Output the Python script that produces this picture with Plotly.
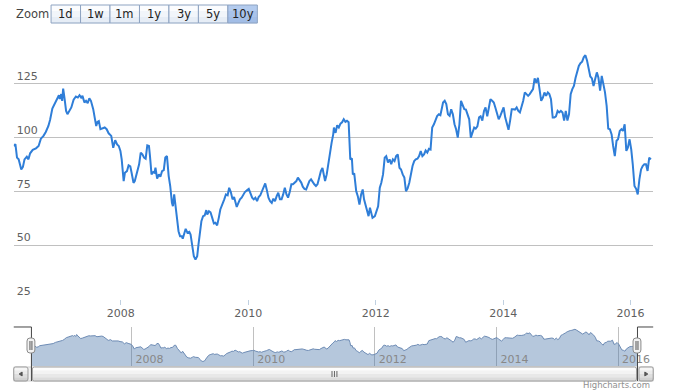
import plotly.graph_objects as go
import pandas as pd

# reference frame is 676 x 390 (positions below are fractions of it)
W, H = 676, 390

# (decimal year, value)
seg_2006_2007 = [
    (2006.320, 96.1), (2006.346, 97.0), (2006.371, 90.7), (2006.397, 89.9), (2006.438, 85.2),
    (2006.464, 86.4), (2006.489, 89.9), (2006.525, 91.1), (2006.551, 89.9), (2006.577, 92.7),
    (2006.618, 94.3), (2006.669, 95.0), (2006.710, 96.1), (2006.746, 99.5), (2006.787, 100.8),
    (2006.823, 102.6), (2006.864, 105.4), (2006.890, 108.2), (2006.926, 113.5), (2006.967, 116.0),
    (2007.003, 118.2), (2007.029, 119.7), (2007.044, 117.9), (2007.065, 120.2), (2007.080, 117.1),
    (2007.096, 122.8), (2007.116, 118.6), (2007.142, 112.4), (2007.163, 110.9), (2007.193, 112.4),
    (2007.224, 114.0), (2007.260, 117.6), (2007.296, 119.1), (2007.327, 118.6), (2007.353, 119.7),
    (2007.378, 118.6), (2007.399, 119.4), (2007.430, 116.3), (2007.455, 117.1), (2007.481, 116.0),
    (2007.507, 118.2), (2007.532, 117.1), (2007.568, 113.2), (2007.594, 108.8), (2007.615, 105.4),
    (2007.635, 107.3), (2007.656, 107.7), (2007.681, 103.9), (2007.712, 104.2), (2007.748, 104.7),
    (2007.779, 103.9), (2007.810, 102.0), (2007.851, 100.8), (2007.882, 95.3), (2007.913, 98.8),
    (2007.943, 96.8), (2007.969, 96.1), (2007.995, 93.8),
]
seg_2008_2009 = [
    (2008.015, 89.9), (2008.046, 79.8), (2008.066, 83.7), (2008.097, 84.4), (2008.123, 87.1),
    (2008.150, 86.6), (2008.170, 83.7), (2008.200, 79.0), (2008.220, 79.8), (2008.251, 82.9),
    (2008.288, 87.6), (2008.313, 93.0), (2008.339, 92.2), (2008.365, 90.7), (2008.390, 90.2),
    (2008.416, 96.4), (2008.442, 96.1), (2008.458, 91.4), (2008.482, 82.9), (2008.509, 84.0),
    (2008.529, 83.7), (2008.544, 86.0), (2008.570, 80.9), (2008.597, 82.9), (2008.621, 81.8),
    (2008.647, 84.4), (2008.674, 84.9), (2008.698, 90.7), (2008.724, 91.4), (2008.751, 82.1),
    (2008.775, 77.5), (2008.802, 69.7), (2008.817, 68.1), (2008.837, 73.6), (2008.859, 68.1),
    (2008.879, 60.4), (2008.905, 56.5), (2008.929, 54.2), (2008.956, 54.2), (2008.971, 53.0),
    (2008.997, 55.8), (2009.017, 57.6), (2009.044, 55.8), (2009.074, 56.2), (2009.094, 55.0),
    (2009.125, 49.5), (2009.145, 44.9), (2009.171, 43.3), (2009.198, 44.9), (2009.218, 50.3),
    (2009.238, 56.5), (2009.264, 61.2), (2009.290, 63.5), (2009.315, 63.8), (2009.341, 66.3),
    (2009.356, 64.2), (2009.383, 65.8), (2009.407, 65.3), (2009.434, 62.7), (2009.460, 60.1),
    (2009.484, 60.4), (2009.511, 59.2), (2009.537, 62.7), (2009.561, 66.6),
]
seg_2009_2011 = [
    (2009.623, 71.3), (2009.649, 73.6), (2009.676, 73.2), (2009.700, 76.7), (2009.726, 74.7),
    (2009.753, 71.3), (2009.777, 72.4), (2009.793, 71.0), (2009.819, 67.8), (2009.845, 69.7),
    (2009.870, 71.3), (2009.896, 72.1), (2009.922, 73.6), (2009.947, 74.7), (2009.984, 75.6),
    (2010.008, 76.2), (2010.035, 74.1), (2010.061, 72.1), (2010.086, 71.3), (2010.112, 72.1),
    (2010.138, 70.5), (2010.163, 72.4), (2010.189, 73.2), (2010.215, 75.1), (2010.240, 77.2),
    (2010.266, 78.7), (2010.292, 75.6), (2010.317, 72.1), (2010.343, 70.5), (2010.369, 69.7),
    (2010.394, 71.6), (2010.420, 70.5), (2010.446, 72.8), (2010.471, 74.4), (2010.497, 71.3),
    (2010.523, 71.3), (2010.548, 73.6), (2010.574, 76.7), (2010.600, 73.6), (2010.625, 72.1),
    (2010.651, 74.7), (2010.677, 78.3), (2010.702, 78.3), (2010.728, 79.1), (2010.755, 79.8),
    (2010.779, 81.4), (2010.805, 80.3), (2010.832, 79.1), (2010.856, 77.2), (2010.882, 76.2),
    (2010.909, 75.9), (2010.933, 77.7), (2010.960, 79.8), (2010.986, 80.6), (2011.010, 79.4),
    (2011.037, 78.3), (2011.063, 77.5), (2011.087, 78.3), (2011.114, 81.4), (2011.140, 84.4),
    (2011.165, 85.9), (2011.191, 82.9), (2011.206, 79.8), (2011.232, 82.9), (2011.257, 88.4),
    (2011.283, 93.0), (2011.309, 97.7), (2011.334, 101.5), (2011.345, 104.7),
]
seg_2011_2013 = [
    (2011.371, 102.2), (2011.396, 105.7), (2011.422, 104.7), (2011.448, 106.5), (2011.473, 107.1),
    (2011.499, 108.5), (2011.525, 107.3), (2011.550, 107.8), (2011.576, 107.1), (2011.592, 99.2),
    (2011.602, 89.9), (2011.627, 90.4), (2011.642, 82.9), (2011.664, 83.4), (2011.695, 75.1),
    (2011.720, 72.8), (2011.746, 68.9), (2011.772, 73.6), (2011.797, 75.9), (2011.818, 71.3),
    (2011.849, 68.1), (2011.874, 65.8), (2011.889, 63.5), (2011.911, 67.4), (2011.935, 65.1),
    (2011.951, 62.7), (2011.988, 63.5), (2012.012, 65.8), (2012.039, 68.1), (2012.065, 76.7),
    (2012.089, 79.0), (2012.116, 82.9), (2012.142, 90.7), (2012.166, 91.4), (2012.193, 88.4),
    (2012.219, 89.9), (2012.244, 87.6), (2012.270, 89.9), (2012.296, 89.1), (2012.321, 91.4),
    (2012.347, 92.2), (2012.373, 86.0), (2012.398, 85.2), (2012.424, 82.9), (2012.450, 81.4),
    (2012.475, 75.1), (2012.501, 76.4), (2012.527, 79.0), (2012.552, 82.9), (2012.578, 86.8),
    (2012.604, 89.1), (2012.629, 89.9), (2012.655, 90.2), (2012.681, 91.4), (2012.706, 93.8),
    (2012.732, 91.4), (2012.758, 92.2), (2012.783, 94.0), (2012.809, 93.0), (2012.835, 94.8),
    (2012.860, 94.5), (2012.886, 104.7), (2012.913, 106.2), (2012.937, 108.5), (2012.963, 110.0),
    (2012.990, 110.8), (2013.014, 110.4), (2013.040, 114.0),
]
seg_2013_2016 = [
    (2013.056, 116.3), (2013.082, 117.1), (2013.107, 115.6), (2013.133, 110.8), (2013.159, 110.1),
    (2013.184, 113.2), (2013.210, 110.8), (2013.236, 106.2), (2013.261, 103.9), (2013.287, 100.0),
    (2013.313, 106.2), (2013.338, 117.1), (2013.364, 114.8), (2013.390, 113.2), (2013.415, 113.0),
    (2013.441, 110.8), (2013.467, 108.5), (2013.492, 100.0), (2013.518, 102.3), (2013.545, 104.7),
    (2013.569, 104.2), (2013.595, 105.2), (2013.622, 109.4), (2013.646, 109.9), (2013.673, 107.9),
    (2013.699, 112.4), (2013.723, 114.0), (2013.750, 109.9), (2013.776, 114.0), (2013.800, 117.8),
    (2013.827, 117.1), (2013.853, 116.3), (2013.877, 114.0), (2013.904, 110.8), (2013.930, 108.5),
    (2013.955, 110.1), (2013.981, 112.4), (2014.007, 114.0), (2014.032, 109.4), (2014.058, 106.2),
    (2014.084, 103.6), (2014.109, 107.9), (2014.135, 113.2), (2014.161, 113.2), (2014.186, 113.0),
    (2014.212, 114.0), (2014.238, 112.4), (2014.263, 111.7), (2014.289, 114.0), (2014.315, 117.1),
    (2014.340, 121.0), (2014.366, 120.2), (2014.392, 119.4), (2014.417, 120.2), (2014.443, 121.3),
    (2014.469, 122.5), (2014.494, 127.5), (2014.520, 125.5), (2014.546, 127.8), (2014.571, 121.8),
    (2014.597, 117.1), (2014.624, 118.6), (2014.648, 121.0), (2014.674, 119.4), (2014.701, 121.0),
    (2014.725, 120.2), (2014.751, 117.8), (2014.778, 109.3), (2014.802, 109.3), (2014.829, 109.9),
    (2014.855, 112.4), (2014.879, 111.7), (2014.906, 112.4), (2014.932, 111.7), (2014.957, 107.9),
    (2014.983, 112.4), (2015.009, 107.9), (2015.034, 110.8), (2015.060, 120.2), (2015.086, 122.5),
    (2015.111, 124.0), (2015.137, 127.8), (2015.163, 131.0), (2015.188, 133.3), (2015.214, 134.6),
    (2015.240, 135.3), (2015.265, 137.3), (2015.291, 138.3), (2015.317, 135.8), (2015.342, 132.7),
    (2015.368, 128.4), (2015.394, 127.5), (2015.419, 124.0), (2015.445, 127.2), (2015.471, 130.3),
    (2015.496, 127.8), (2015.522, 121.8), (2015.548, 128.7), (2015.573, 125.5), (2015.599, 121.0),
    (2015.625, 114.7), (2015.650, 104.2), (2015.676, 103.9), (2015.703, 101.5), (2015.727, 96.1),
    (2015.753, 91.4), (2015.780, 98.5), (2015.804, 99.2), (2015.831, 103.1), (2015.857, 103.9),
    (2015.881, 103.1), (2015.908, 106.2), (2015.934, 93.8), (2015.958, 95.3), (2015.985, 99.2),
    (2016.011, 94.5), (2016.035, 87.6), (2016.062, 77.5), (2016.088, 76.2), (2016.113, 73.6),
    (2016.139, 80.6), (2016.165, 85.2), (2016.190, 86.8), (2016.216, 87.6), (2016.242, 87.6),
    (2016.267, 84.5), (2016.293, 90.7), (2016.319, 89.9),
]

axis_years = [2008, 2010, 2012, 2014, 2016]
y_ticks = [25, 50, 75, 100, 125, 150]
y_tick_labels = ["25", "50", "75", "100", "125", ""]
zoom_buttons = ["1d", "1w", "1m", "1y", "3y", "5y", "10y"]
selected_button = "10y"
main_view = (2006.320, 2016.355)
nav_view = (2006.352, 2016.319)
main_y_range = (25, 150)
nav_y_range = (30, 145)


def to_date(v):
    y = int(v)
    start = pd.Timestamp(year=y, month=1, day=1)
    end = pd.Timestamp(year=y + 1, month=1, day=1)
    return start + (end - start) * (v - y)


points = seg_2006_2007 + seg_2008_2009 + seg_2009_2011 + seg_2011_2013 + seg_2013_2016
dates = [to_date(p[0]) for p in points]
vals = [p[1] for p in points]
tick_dates = [pd.Timestamp(year=y, month=1, day=1) for y in axis_years]
tick_text = [str(y) for y in axis_years]

FONT = "DejaVu Sans"


def px(x):
    return x / W


def py(y):
    return 1 - y / H


def P(x, y):
    return f"{px(x):.5f},{py(y):.5f}"


def rrect(x0, y0, x1, y1, r):
    return (f"M {P(x0 + r, y0)} L {P(x1 - r, y0)} Q {P(x1, y0)} {P(x1, y0 + r)} "
            f"L {P(x1, y1 - r)} Q {P(x1, y1)} {P(x1 - r, y1)} L {P(x0 + r, y1)} "
            f"Q {P(x0, y1)} {P(x0, y1 - r)} L {P(x0, y0 + r)} Q {P(x0, y0)} {P(x0 + r, y0)} Z")


def rect(x0, y0, x1, y1, fill, line=None, lw=1):
    return dict(type="rect", xref="paper", yref="paper", x0=px(x0), x1=px(x1),
                y0=py(y1), y1=py(y0), fillcolor=fill,
                line=dict(color=line or fill, width=lw if line else 0), layer="above")


def bands(x0, y0, x1, y1, colors):
    n = len(colors)
    h = (y1 - y0) / n
    return [rect(x0, y0 + i * h, x1, y0 + (i + 1) * h + 0.3, c) for i, c in enumerate(colors)]


def path(d, color, width=1, fill=None):
    s = dict(type="path", xref="paper", yref="paper", path=d,
             line=dict(color=color, width=width), layer="above")
    if fill:
        s["fillcolor"] = fill
    return s


fig = go.Figure()
fig.add_trace(go.Scatter(x=dates, y=vals, mode="lines", xaxis="x", yaxis="y",
                         line=dict(color="#2f7ed8", width=2), hoverinfo="skip"))
fig.add_trace(go.Scatter(x=dates, y=vals, mode="lines", xaxis="x2", yaxis="y2",
                         fill="tozeroy", fillcolor="rgba(69,114,167,0.4)",
                         line=dict(color="#6d8bb4", width=1), hoverinfo="skip"))

shapes = []
annotations = []

# range selector
annotations.append(dict(text="Zoom", x=px(14), y=py(14.5), xref="paper", yref="paper",
                        xanchor="left", yanchor="middle", showarrow=False,
                        font=dict(family=FONT, size=11.5, color="#444444")))
for i, lab in enumerate(zoom_buttons):
    x0 = 52 + 30 * i
    if lab == selected_button:
        shapes += bands(x0, 5, x0 + 30, 23, ["#b3cbee", "#a9c3ea", "#a2bde6"])
    else:
        shapes += bands(x0, 5, x0 + 30, 23, ["#fbfcfe", "#f1f5fa", "#e6edf6"])
    shapes.append(rect(x0, 5, x0 + 30, 23, "rgba(0,0,0,0)", "#8ea3c1", 1))
    annotations.append(dict(text=lab, x=px(x0 + 15), y=py(14.5), xref="paper", yref="paper",
                            xanchor="center", yanchor="middle", showarrow=False,
                            font=dict(family=FONT, size=11.5, color="#222222")))

# scrollbar
shapes.append(rect(14, 367, 665, 381, "#f2f2f2", "#cccccc", 1))
shapes += bands(33, 367, 648, 381, ["#fdfdfd", "#f3f3f3", "#e8e8e8", "#dcdcdc"])
shapes.append(path(rrect(33, 367, 648, 381, 2), "#a0a0a0", 1))
for bx0, bx1 in ((14, 28.5), (650.5, 665)):
    shapes += bands(bx0, 367, bx1, 381, ["#f6f6f6", "#ebebeb", "#dedede", "#d2d2d2"])
    shapes.append(path(rrect(bx0, 367, bx1, 381, 2), "#9a9a9a", 1))
shapes.append(path(f"M {P(19.5, 374)} L {P(22.5, 372)} L {P(22.5, 376)} Z", "#555555", 1, "#555555"))
shapes.append(path(f"M {P(659.5, 374)} L {P(656.5, 372)} L {P(656.5, 376)} Z", "#555555", 1, "#555555"))
for gx in (338, 340.5, 343):
    shapes.append(path(f"M {P(gx, 371)} L {P(gx, 377)}", "#666666", 1))

# navigator outline
shapes.append(path(f"M {P(14, 327)} L {P(32, 327)} L {P(32, 381)}", "#444444", 1))
shapes.append(path(f"M {P(665, 327)} L {P(649, 327)} L {P(649, 381)}", "#444444", 1))

# navigator handles
for hx in (32, 649):
    shapes.append(path(rrect(hx - 4.5, 338, hx + 3.5, 353, 3), "#8a8a8a", 1, "#f2f2f2"))
    for lx in (hx - 1.5, hx + 0.5):
        shapes.append(path(f"M {P(lx, 341)} L {P(lx, 350)}", "#555555", 1))

annotations.append(dict(text="Highcharts.com", x=px(664), y=py(385), xref="paper", yref="paper",
                        xanchor="right", yanchor="middle", showarrow=False,
                        font=dict(family=FONT, size=8.5, color="#909090")))

fig.update_layout(
    width=W, height=H, autosize=False,
    margin=dict(l=0, r=0, t=0, b=0),
    paper_bgcolor="white", plot_bgcolor="white",
    showlegend=False,
    font=dict(family=FONT),
    xaxis=dict(domain=[px(14), px(665)], anchor="y", type="date",
               range=[to_date(main_view[0]), to_date(main_view[1])],
               tickvals=tick_dates, ticktext=tick_text, showgrid=False,
               ticks="outside", ticklen=5, tickwidth=1, tickcolor="#c0d0e0",
               showline=False, zeroline=False, ticklabelstandoff=-1,
               tickfont=dict(family=FONT, size=11, color="#606060")),
    yaxis=dict(domain=[py(299), py(30)], anchor="x", range=list(main_y_range),
               tickvals=y_ticks, ticktext=y_tick_labels, gridcolor="#c0c0c0", gridwidth=1,
               ticklabelposition="inside top", ticks="", showline=False, zeroline=False,
               tickfont=dict(family=FONT, size=11, color="#606060")),
    xaxis2=dict(domain=[px(32), px(649)], anchor="y2", type="date",
                range=[to_date(nav_view[0]), to_date(nav_view[1])],
                tickvals=tick_dates, ticktext=tick_text, showgrid=True, gridcolor="#c0c0c0",
                ticks="", showline=False, zeroline=False,
                ticklabelposition="inside right", ticklabeloverflow="allow",
                ticklabelstandoff=-5, ticklabelshift=4,
                tickfont=dict(family=FONT, size=11, color="#888888")),
    yaxis2=dict(domain=[py(366), py(327)], anchor="x2", range=list(nav_y_range),
                showgrid=False, showticklabels=False, zeroline=False, showline=False, ticks=""),
    shapes=shapes,
    annotations=annotations,
)

fig.write_html(
    "out.html",
    config={"displayModeBar": False, "responsive": False},
    post_script=(
        "document.documentElement.style.margin='0';"
        "document.documentElement.style.overflow='hidden';"
        "document.body.style.margin='0';"
        "document.body.style.overflow='hidden';"
    ),
)
